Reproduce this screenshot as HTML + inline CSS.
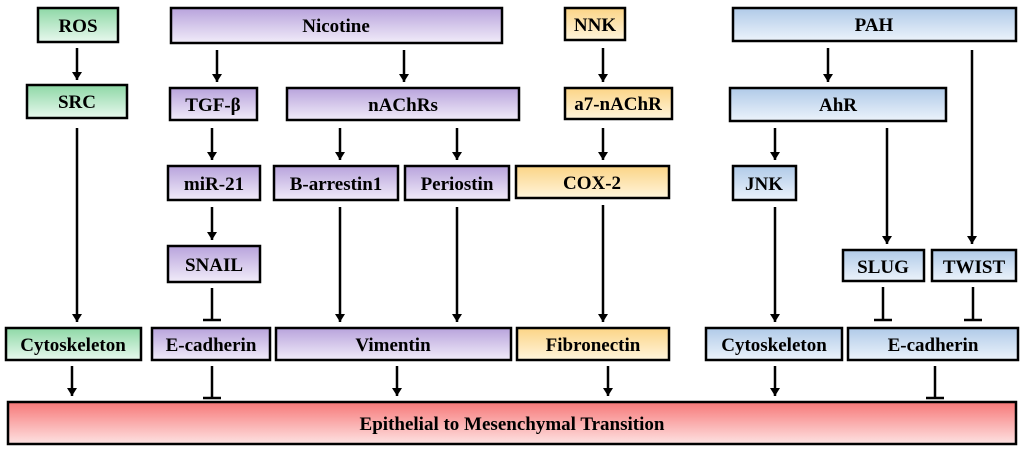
<!DOCTYPE html>
<html><head><meta charset="utf-8"><style>body{margin:0;background:#fff}svg{display:block}</style></head><body>
<svg width="1024" height="452" xmlns="http://www.w3.org/2000/svg" font-family="Liberation Serif, serif" font-weight="bold">
<defs>
<linearGradient id="g" x1="0" y1="0" x2="0" y2="1"><stop offset="0" stop-color="#8ed8a6"/><stop offset="1" stop-color="#e8f8ee"/></linearGradient>
<linearGradient id="p" x1="0" y1="0" x2="0" y2="1"><stop offset="0" stop-color="#b8a3dc"/><stop offset="1" stop-color="#f1ecf9"/></linearGradient>
<linearGradient id="y" x1="0" y1="0" x2="0" y2="1"><stop offset="0" stop-color="#fbd486"/><stop offset="1" stop-color="#fff5dc"/></linearGradient>
<linearGradient id="b" x1="0" y1="0" x2="0" y2="1"><stop offset="0" stop-color="#b0cae8"/><stop offset="1" stop-color="#ecf3fb"/></linearGradient>
<linearGradient id="r" x1="0" y1="0" x2="0" y2="1"><stop offset="0" stop-color="#f77878"/><stop offset="1" stop-color="#fde2e2"/></linearGradient>
<marker id="a" markerWidth="10" markerHeight="10" refX="8" refY="5" orient="auto" markerUnits="userSpaceOnUse"><path d="M0,0 L8,5 L0,10 z" fill="#000"/></marker>
</defs>
<g stroke="#000" stroke-width="2.5">
<rect x="38" y="8" width="80" height="34" fill="url(#g)"/>
<rect x="171" y="8" width="331" height="35" fill="url(#p)"/>
<rect x="565" y="8" width="60" height="32" fill="url(#y)"/>
<rect x="733" y="8" width="283" height="33" fill="url(#b)"/>
<rect x="27" y="85" width="100" height="33" fill="url(#g)"/>
<rect x="170" y="88" width="87" height="32" fill="url(#p)"/>
<rect x="287" y="88" width="232" height="32" fill="url(#p)"/>
<rect x="565" y="88" width="107" height="31" fill="url(#y)"/>
<rect x="730" y="88" width="216" height="33" fill="url(#b)"/>
<rect x="168" y="166" width="92" height="34" fill="url(#p)"/>
<rect x="274" y="166" width="124" height="34" fill="url(#p)"/>
<rect x="405" y="166" width="104" height="34" fill="url(#p)"/>
<rect x="516" y="166" width="153" height="32" fill="url(#y)"/>
<rect x="733" y="166" width="63" height="34" fill="url(#b)"/>
<rect x="168" y="246" width="92" height="36" fill="url(#p)"/>
<rect x="843" y="250" width="81" height="31" fill="url(#b)"/>
<rect x="932" y="250" width="84" height="31" fill="url(#b)"/>
<rect x="6" y="328" width="135" height="32" fill="url(#g)"/>
<rect x="152" y="328" width="118" height="32" fill="url(#p)"/>
<rect x="276" y="328" width="235" height="32" fill="url(#p)"/>
<rect x="517" y="328" width="152" height="32" fill="url(#y)"/>
<rect x="706" y="328" width="136" height="32" fill="url(#b)"/>
<rect x="848" y="328" width="170" height="32" fill="url(#b)"/>
<rect x="8" y="402" width="1008" height="42" fill="url(#r)"/>
</g>
<g stroke="#000" stroke-width="2.5" marker-end="url(#a)">
<line x1="77" y1="48" x2="77" y2="80"/>
<line x1="217" y1="50" x2="217" y2="82"/>
<line x1="404" y1="50" x2="404" y2="82"/>
<line x1="603" y1="48" x2="603" y2="82"/>
<line x1="828" y1="48" x2="828" y2="82"/>
<line x1="972" y1="50" x2="972" y2="244"/>
<line x1="77" y1="128" x2="77" y2="322"/>
<line x1="212" y1="128" x2="212" y2="160"/>
<line x1="340" y1="128" x2="340" y2="160"/>
<line x1="457" y1="128" x2="457" y2="160"/>
<line x1="603" y1="128" x2="603" y2="160"/>
<line x1="775" y1="128" x2="775" y2="160"/>
<line x1="887" y1="128" x2="887" y2="244"/>
<line x1="212" y1="207" x2="212" y2="240"/>
<line x1="340" y1="207" x2="340" y2="322"/>
<line x1="457" y1="207" x2="457" y2="322"/>
<line x1="603" y1="205" x2="603" y2="322"/>
<line x1="775" y1="207" x2="775" y2="322"/>
<line x1="72" y1="366" x2="72" y2="396"/>
<line x1="397" y1="366" x2="397" y2="396"/>
<line x1="608" y1="366" x2="608" y2="396"/>
<line x1="775" y1="366" x2="775" y2="396"/>
</g>
<g stroke="#000" stroke-width="2.5">
<line x1="212" y1="288" x2="212" y2="320"/><line x1="203" y1="320" x2="221" y2="320"/>
<line x1="883" y1="287" x2="883" y2="320"/><line x1="874" y1="320" x2="892" y2="320"/>
<line x1="973" y1="287" x2="973" y2="320"/><line x1="964" y1="320" x2="982" y2="320"/>
<line x1="212" y1="366" x2="212" y2="398"/><line x1="203" y1="398" x2="221" y2="398"/>
<line x1="935" y1="366" x2="935" y2="398"/><line x1="926" y1="398" x2="944" y2="398"/>
</g>
<g font-size="19" text-anchor="middle" fill="#000">
<text x="78" y="32">ROS</text>
<text x="336" y="32">Nicotine</text>
<text x="595" y="31">NNK</text>
<text x="874" y="31">PAH</text>
<text x="77" y="108">SRC</text>
<text x="213" y="111">TGF-β</text>
<text x="403" y="111">nAChRs</text>
<text x="618" y="110">a7-nAChR</text>
<text x="838" y="111">AhR</text>
<text x="214" y="190">miR-21</text>
<text x="336" y="190">B-arrestin1</text>
<text x="457" y="190">Periostin</text>
<text x="592" y="189">COX-2</text>
<text x="764" y="190">JNK</text>
<text x="214" y="271">SNAIL</text>
<text x="883" y="273">SLUG</text>
<text x="974" y="273">TWIST</text>
<text x="73" y="351">Cytoskeleton</text>
<text x="211" y="351">E-cadherin</text>
<text x="393" y="351">Vimentin</text>
<text x="593" y="351">Fibronectin</text>
<text x="774" y="351">Cytoskeleton</text>
<text x="933" y="351">E-cadherin</text>
<text x="512" y="430">Epithelial to Mesenchymal Transition</text>
</g>
</svg>
</body></html>
